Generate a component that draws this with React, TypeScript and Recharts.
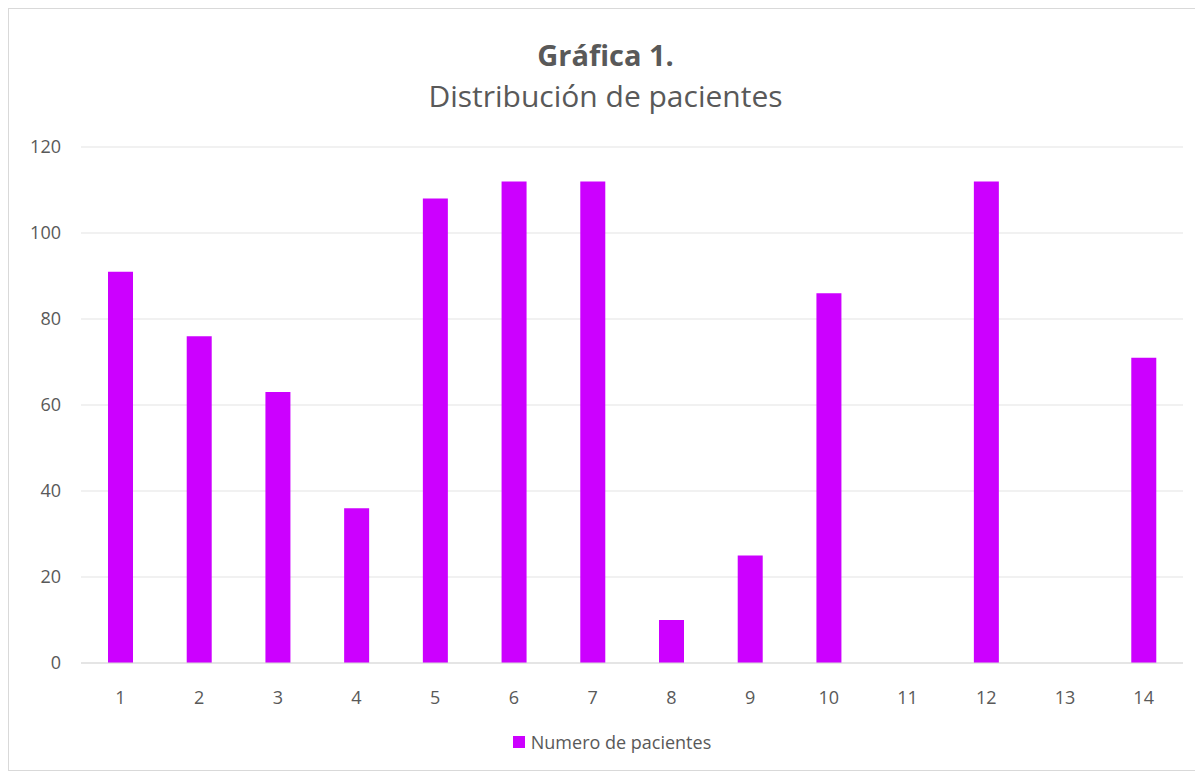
import React from 'react';
import { BarChart, Bar, XAxis, YAxis, CartesianGrid, Legend } from 'recharts';

const categories = ['1', '2', '3', '4', '5', '6', '7', '8', '9', '10', '11', '12', '13', '14'];
const pacientes = [91, 76, 63, 36, 108, 112, 112, 10, 25, 86, 0, 112, 0, 71];
const yTicks = [0, 20, 40, 60, 80, 100, 120];

const data = categories.map((c, i) => ({ name: c, value: pacientes[i] }));

const FONT = '"Open Sans", "Noto Sans", sans-serif';
const BAR_COLOR = '#CC00FF';
const TEXT_COLOR = '#595959';

const LegendContent = () => (
  <div style={{ display: 'flex', justifyContent: 'center', alignItems: 'center', paddingLeft: 32, fontFamily: FONT, fontSize: 18, color: TEXT_COLOR }}>
    <span style={{ display: 'inline-block', width: 12, height: 12, background: BAR_COLOR, marginRight: 6 }} />
    <span>Numero de pacientes</span>
  </div>
);

export default function App() {
  return (
    <div
      style={{
        position: 'relative',
        width: 1193,
        height: 761,
        border: '1px solid #d9d9d9',
        background: '#fff',
        fontFamily: FONT,
      }}
    >
      <div style={{ position: 'absolute', top: 26, left: 0, width: '100%', textAlign: 'center', color: TEXT_COLOR }}>
        <div style={{ fontSize: 29, fontWeight: 700, lineHeight: '40px' }}>Gráfica 1.</div>
        <div style={{ fontSize: 30, lineHeight: '42px' }}>Distribución de pacientes</div>
      </div>
      <BarChart
        width={1193}
        height={761}
        data={data}
        margin={{ top: 138, right: 19, bottom: 2, left: 0 }}
      >
        <CartesianGrid vertical={false} stroke="#e3e3e3" />
        <XAxis
          dataKey="name"
          axisLine={{ stroke: '#d9d9d9' }}
          tickLine={false}
          tick={{ fill: TEXT_COLOR, fontSize: 18, fontFamily: FONT }}
          tickMargin={22}
          height={67}
        />
        <YAxis
          domain={[0, 120]}
          ticks={yTicks}
          axisLine={false}
          tickLine={false}
          tick={{ fill: TEXT_COLOR, fontSize: 18, fontFamily: FONT }}
          width={72}
          tickMargin={14}
        />
        <Legend verticalAlign="bottom" height={38} content={<LegendContent />} />
        <Bar dataKey="value" fill={BAR_COLOR} barSize={25} isAnimationActive={false} />
      </BarChart>
    </div>
  );
}
